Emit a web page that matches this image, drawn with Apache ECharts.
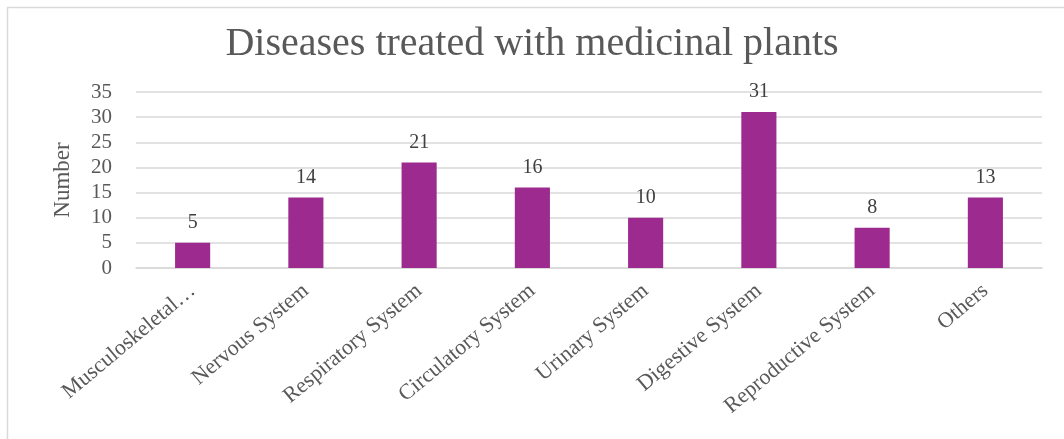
<!DOCTYPE html>
<html><head><meta charset="utf-8">
<script src="https://cdn.jsdelivr.net/npm/echarts@6/dist/echarts.min.js"></script>
<style>html,body{margin:0;padding:0;background:#fff}#c{width:1064px;height:439px}</style>
</head><body><div id="c"></div>
<script>
var categories = ["Musculoskeletal…","Nervous System","Respiratory System","Circulatory System","Urinary System","Digestive System","Reproductive System","Others"];
var values = [5,14,21,16,10,31,8,14];
var valueLabels = ["5","14","21","16","10","31","8","13"];
var yTicks = [0,5,10,15,20,25,30,35];

var font = "'Liberation Serif','Times New Roman',serif";
var chart = echarts.init(document.getElementById('c'));
chart.setOption({
  animation:false,
  backgroundColor:'#fff',
  graphic:[{type:'rect',shape:{x:7.5,y:7.5,width:1070,height:450},style:{fill:'none',stroke:'#d9d9d9',lineWidth:1.5},silent:true}],
  title:{text:'Diseases treated with medicinal plants',left:'center',top:19,
    textStyle:{fontFamily:font,fontSize:40,fontWeight:'normal',color:'#595959'}},
  grid:{left:136,right:22,top:92,bottom:171},
  xAxis:{type:'category',data:categories,
    axisLine:{lineStyle:{color:'#d9d9d9',width:1.5}},axisTick:{show:false},
    axisLabel:{rotate:40,interval:0,margin:20,fontFamily:font,fontSize:22,color:'#595959'}},
  yAxis:{type:'value',min:0,max:35,interval:5,name:'Number',nameLocation:'middle',nameGap:62,
    nameTextStyle:{fontFamily:font,fontSize:23,color:'#595959'},
    axisLine:{show:false},axisTick:{show:false},
    axisLabel:{fontFamily:font,fontSize:21,color:'#595959',margin:24,
      formatter:function(v){return yTicks.indexOf(v)>=0?String(v):'';}},
    splitLine:{lineStyle:{color:'#d9d9d9',width:1.5}}},
  series:[{type:'bar',data:values,barCategoryGap:'69%',
    itemStyle:{color:'#9c2a8f'},
    label:{show:true,position:'top',distance:10,fontFamily:font,fontSize:20,color:'#404040',
      formatter:function(p){return valueLabels[p.dataIndex];}}}]
});
</script></body></html>
